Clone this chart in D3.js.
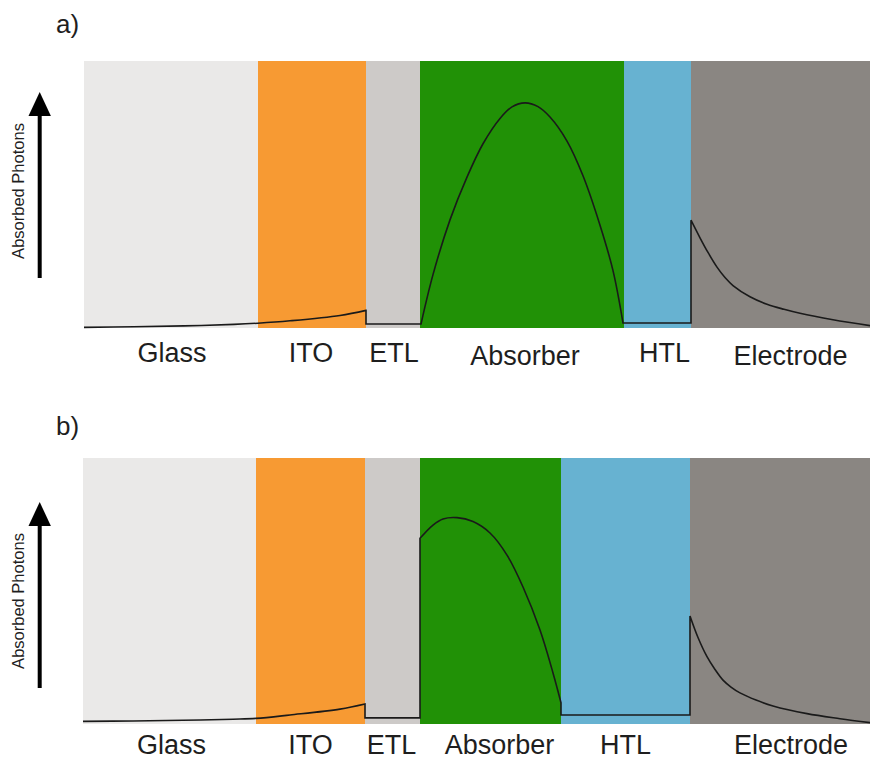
<!DOCTYPE html>
<html>
<head>
<meta charset="utf-8">
<script src="https://cdn.jsdelivr.net/npm/d3@7"></script>
<style>
  body { margin: 0; background: #fff; }
  svg { display: block; }
  text { font-family: "Liberation Sans", Arial, Helvetica, sans-serif; fill: #1e1e1e; }
</style>
</head>
<body>
<svg id="chart" width="870" height="760"></svg>
<script>
// ---- Data -------------------------------------------------------------
const layerNames = ["Glass", "ITO", "ETL", "Absorber", "HTL", "Electrode"];

// Layer boundaries along the stack depth (arbitrary depth units)
const layerEdgesA = [0, 174, 282, 336, 540, 607, 786];
const layerEdgesB = [0, 173, 282, 337, 478, 607, 787];

// Absorbed photon profile (relative, 0–100), one segment per continuous run
const absorbedA = [
  [[0, 0.25], [50, 0.45], [100, 0.8], [150, 1.35], [174, 1.8], [206, 2.7], [256, 4.7], [282, 6.6]],
  [[282, 1.5], [336, 1.5]],
  [[337, 1.5], [349, 20], [366, 40.5], [383, 56.5], [399, 69], [416, 78.5], [428, 82.8], [441, 84.3],
   [454, 82.9], [466, 79], [483, 70], [499, 57], [516, 38.5], [529, 21.5], [539, 1.9]],
  [[540, 1.9], [607, 1.9]],
  [[607, 40.4], [616, 33.8], [624, 28.3], [633, 22.8], [641, 18.9], [649, 15.9], [666, 11.7],
   [683, 8.9], [700, 7.0], [716, 5.5], [749, 3.1], [786, 0.9]]
];

const absorbedB = [
  [[0, 1.0], [50, 1.15], [100, 1.4], [150, 1.8], [173, 2.1], [207, 3.4], [257, 5.6], [282, 7.5]],
  [[282, 2.3], [337, 2.3]],
  [[337, 69.8], [350, 74.8], [360, 77.1], [374, 77.6], [390, 76.1], [407, 71.8], [424, 63.5],
   [440, 51.5], [457, 35.3], [470, 19.2], [478, 8.0]],
  [[478, 3.4], [607, 3.4]],
  [[607, 40.6], [615, 32.5], [624, 25.3], [632, 20.5], [640, 16.5], [648, 13.9], [657, 11.7],
   [673, 9.0], [690, 6.8], [724, 3.9], [757, 2.0], [787, 0.5]]
];

const panelTags = ["a)", "b)"];
const axisTitle = "Absorbed Photons";

// ---- Styling / layout -------------------------------------------------
const layerColors = ["#eae9e8", "#f79a33", "#cdcac8", "#219106", "#67b2d1", "#8a8682"];

const panels = [
  { tag: panelTags[0], edges: layerEdgesA, profile: absorbedA,
    left: 84, right: 870, top: 61, bottom: 328, tagY: 33, labelY: 362,
    arrowTip: 92, arrowEnd: 278, titleMid: 191,
    labelShift: [1, -1, 1, 3, 7, 10], labelDy: [0, 0, 0, 3, 0, 3] },
  { tag: panelTags[1], edges: layerEdgesB, profile: absorbedB,
    left: 83, right: 870, top: 458, bottom: 724, tagY: 435, labelY: 754,
    arrowTip: 502, arrowEnd: 688, titleMid: 601,
    labelShift: [2, 0, -1, 9, 0, 11], labelDy: [0, 0, 0, 0, 0, 0] }
];

const svg = d3.select("#chart");

panels.forEach(p => {
  const depthMax = p.edges[p.edges.length - 1];
  const x = d3.scaleLinear().domain([0, depthMax]).range([p.left, p.right]);
  const y = d3.scaleLinear().domain([0, 100]).range([p.bottom, p.top]);
  const g = svg.append("g");

  // layer bands
  const layers = layerNames.map((name, i) => ({
    name, i, x0: p.edges[i], x1: p.edges[i + 1]
  }));

  g.selectAll("rect.layer")
    .data(layers)
    .join("rect")
    .attr("class", "layer")
    .attr("x", d => x(d.x0))
    .attr("y", p.top)
    .attr("width", d => x(d.x1) - x(d.x0))
    .attr("height", p.bottom - p.top)
    .attr("fill", d => layerColors[d.i]);

  // layer names
  g.selectAll("text.layer-label")
    .data(layers)
    .join("text")
    .attr("class", "layer-label")
    .attr("x", d => (x(d.x0) + x(d.x1)) / 2 + p.labelShift[d.i])
    .attr("y", d => p.labelY + p.labelDy[d.i])
    .attr("text-anchor", "middle")
    .attr("font-size", 27)
    .text(d => d.name);

  // absorption profile: smooth within a layer, vertical jumps at interfaces
  const line = d3.line()
    .x(d => x(d[0]))
    .y(d => y(d[1]))
    .curve(d3.curveCatmullRom.alpha(0.5));
  const pathD = p.profile
    .map((seg, k) => {
      const s = line(seg);
      return k === 0 ? s : "L" + s.slice(1);
    })
    .join("");
  g.append("path")
    .attr("d", pathD)
    .attr("fill", "none")
    .attr("stroke", "#1a1a1a")
    .attr("stroke-width", 1.6)
    .attr("stroke-linejoin", "miter");

  // panel tag
  g.append("text")
    .attr("x", 56)
    .attr("y", p.tagY)
    .attr("font-size", 26)
    .text(p.tag);

  // vertical arrow with axis title
  const ax = 39.7;
  g.append("line")
    .attr("x1", ax).attr("x2", ax)
    .attr("y1", p.arrowEnd).attr("y2", p.arrowTip + 20)
    .attr("stroke", "#000")
    .attr("stroke-width", 4);
  const head = d3.path();
  head.moveTo(ax, p.arrowTip);
  head.lineTo(ax + 11.2, p.arrowTip + 24);
  head.lineTo(ax - 11.2, p.arrowTip + 24);
  head.closePath();
  g.append("path").attr("d", head.toString()).attr("fill", "#000");

  g.append("text")
    .attr("transform", `translate(24,${p.titleMid}) rotate(-90)`)
    .attr("text-anchor", "middle")
    .attr("font-size", 16.5)
    .text(axisTitle);
});
</script>
</body>
</html>
